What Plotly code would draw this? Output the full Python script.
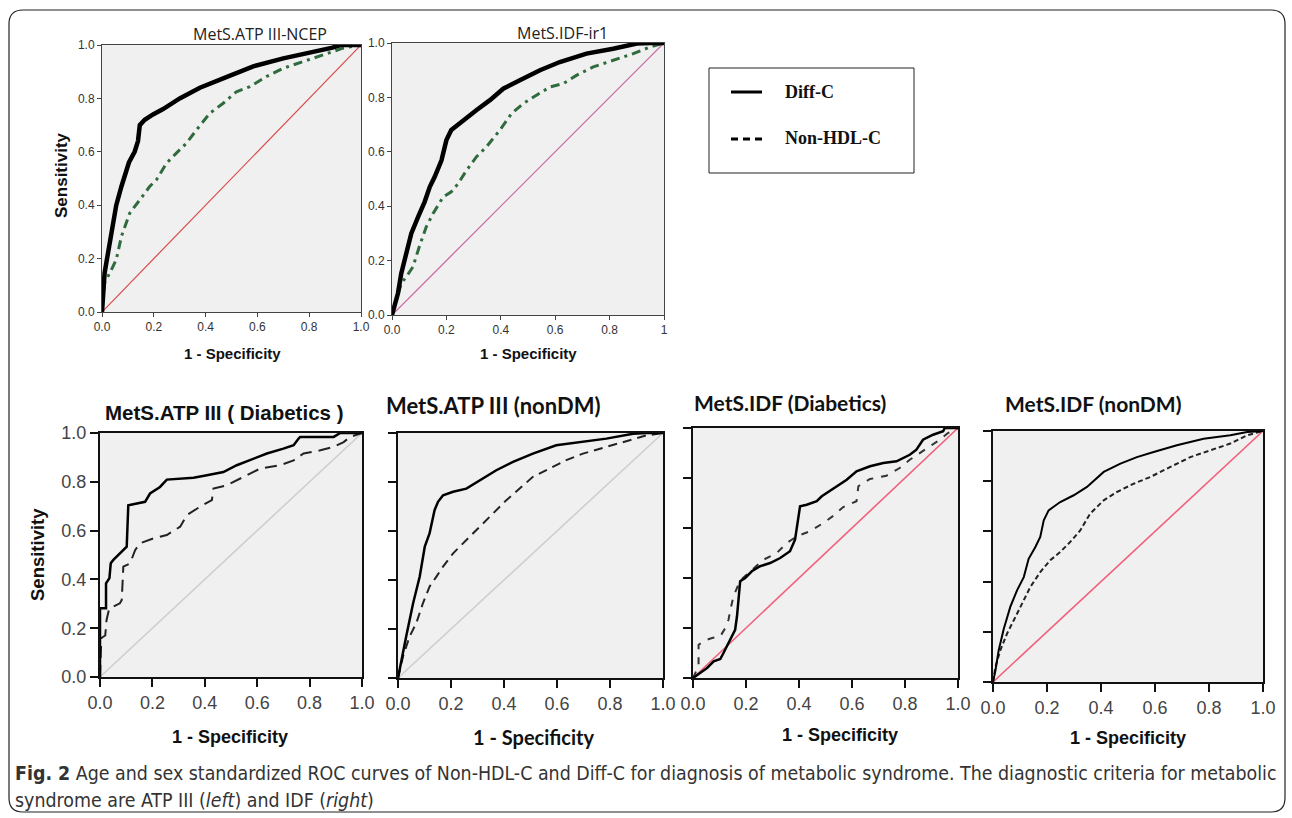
import plotly.graph_objects as go

W, H = 1292, 818

# ---------------- data ----------------
# Top-left: MetS.ATP III-NCEP
a_diff_x = [0, 0.005, 0.01, 0.023, 0.043, 0.055, 0.075, 0.095, 0.104, 0.126, 0.139, 0.146, 0.165, 0.197, 0.236, 0.30, 0.378, 0.48, 0.584, 0.70, 0.80, 0.89, 0.92, 1.0]
a_diff_y = [0, 0.10, 0.146, 0.22, 0.32, 0.40, 0.47, 0.54, 0.56, 0.60, 0.64, 0.70, 0.72, 0.74, 0.76, 0.80, 0.84, 0.88, 0.92, 0.95, 0.97, 0.99, 1.0, 1.0]
a_non_x = [0, 0.01, 0.03, 0.055, 0.075, 0.107, 0.146, 0.184, 0.21, 0.249, 0.287, 0.326, 0.365, 0.416, 0.468, 0.519, 0.571, 0.635, 0.70, 0.777, 0.854, 0.93, 1.0]
a_non_y = [0, 0.11, 0.146, 0.196, 0.283, 0.37, 0.42, 0.47, 0.495, 0.557, 0.595, 0.632, 0.682, 0.744, 0.782, 0.825, 0.844, 0.882, 0.913, 0.938, 0.963, 0.988, 1.0]

# Top-right: MetS.IDF-ir1
b_diff_x = [0, 0.01, 0.022, 0.034, 0.053, 0.071, 0.096, 0.12, 0.139, 0.157, 0.182, 0.2, 0.218, 0.261, 0.31, 0.36, 0.409, 0.47, 0.544, 0.617, 0.715, 0.813, 0.90, 0.95, 1.0]
b_diff_y = [0, 0.043, 0.08, 0.153, 0.226, 0.30, 0.361, 0.416, 0.471, 0.508, 0.569, 0.643, 0.68, 0.716, 0.753, 0.79, 0.832, 0.863, 0.90, 0.93, 0.961, 0.979, 0.998, 1.0, 1.0]
b_non_x = [0, 0.016, 0.034, 0.053, 0.077, 0.10, 0.126, 0.151, 0.188, 0.218, 0.243, 0.274, 0.31, 0.347, 0.396, 0.439, 0.482, 0.531, 0.58, 0.63, 0.678, 0.74, 0.813, 0.887, 0.948, 1.0]
b_non_y = [0, 0.055, 0.116, 0.141, 0.177, 0.25, 0.324, 0.373, 0.434, 0.453, 0.483, 0.532, 0.581, 0.618, 0.679, 0.74, 0.777, 0.808, 0.838, 0.851, 0.881, 0.912, 0.936, 0.961, 0.985, 1.0]

# Bottom 1: MetS.ATP III ( Diabetics )
c_diff_x = [0, 0, 0.023, 0.023, 0.036, 0.041, 0.051, 0.102, 0.108, 0.14, 0.172, 0.191, 0.229, 0.255, 0.306, 0.357, 0.408, 0.471, 0.522, 0.586, 0.637, 0.70, 0.739, 0.758, 0.764, 0.854, 0.892, 0.917, 1.0]
c_diff_y = [0, 0.282, 0.282, 0.384, 0.405, 0.466, 0.48, 0.534, 0.704, 0.711, 0.718, 0.752, 0.779, 0.809, 0.813, 0.817, 0.827, 0.84, 0.868, 0.895, 0.916, 0.936, 0.95, 0.977, 0.984, 0.984, 0.984, 1.0, 1.0]
c_non_x = [0, 0.005, 0.02, 0.025, 0.035, 0.076, 0.083, 0.089, 0.115, 0.134, 0.153, 0.204, 0.255, 0.306, 0.331, 0.382, 0.427, 0.433, 0.484, 0.535, 0.611, 0.688, 0.739, 0.777, 0.841, 0.892, 0.93, 0.955, 1.0]
c_non_y = [0, 0.16, 0.17, 0.234, 0.28, 0.302, 0.316, 0.452, 0.466, 0.52, 0.548, 0.568, 0.582, 0.616, 0.663, 0.698, 0.725, 0.772, 0.786, 0.813, 0.854, 0.868, 0.888, 0.916, 0.929, 0.943, 0.963, 0.984, 1.0]

# Bottom 2: MetS.ATP III (nonDM)
d_diff_x = [0, 0.013, 0.031, 0.057, 0.082, 0.101, 0.119, 0.138, 0.151, 0.17, 0.208, 0.258, 0.308, 0.371, 0.434, 0.509, 0.597, 0.686, 0.786, 0.887, 0.937, 1.0]
d_diff_y = [0, 0.075, 0.17, 0.305, 0.414, 0.536, 0.59, 0.685, 0.719, 0.746, 0.76, 0.773, 0.807, 0.848, 0.882, 0.916, 0.95, 0.963, 0.977, 0.997, 1.0, 1.0]
d_non_x = [0, 0.019, 0.044, 0.069, 0.094, 0.119, 0.145, 0.17, 0.208, 0.258, 0.308, 0.358, 0.409, 0.459, 0.509, 0.572, 0.635, 0.698, 0.761, 0.811, 0.887, 0.937, 1.0]
d_non_y = [0, 0.088, 0.17, 0.224, 0.305, 0.373, 0.414, 0.455, 0.509, 0.563, 0.617, 0.672, 0.726, 0.773, 0.821, 0.855, 0.889, 0.916, 0.936, 0.95, 0.977, 0.99, 1.0]

# Bottom 3: MetS.IDF (Diabetics)
e_diff_x = [0, 0.028, 0.053, 0.078, 0.103, 0.115, 0.128, 0.147, 0.159, 0.166, 0.172, 0.178, 0.197, 0.222, 0.253, 0.291, 0.329, 0.366, 0.385, 0.392, 0.404, 0.429, 0.467, 0.486, 0.542, 0.58, 0.617, 0.668, 0.718, 0.768, 0.818, 0.843, 0.868, 0.906, 0.944, 0.95, 1.0]
e_diff_y = [0, 0.02, 0.04, 0.067, 0.076, 0.10, 0.127, 0.167, 0.193, 0.247, 0.313, 0.387, 0.40, 0.427, 0.447, 0.46, 0.48, 0.507, 0.553, 0.607, 0.687, 0.693, 0.707, 0.727, 0.767, 0.793, 0.827, 0.847, 0.86, 0.867, 0.893, 0.913, 0.953, 0.973, 0.987, 1.0, 1.0]
e_non_x = [0, 0.021, 0.021, 0.053, 0.072, 0.103, 0.122, 0.134, 0.141, 0.153, 0.178, 0.222, 0.266, 0.316, 0.354, 0.392, 0.442, 0.492, 0.53, 0.567, 0.617, 0.624, 0.668, 0.73, 0.78, 0.818, 0.856, 0.893, 0.931, 0.962, 1.0]
e_non_y = [0, 0.047, 0.133, 0.153, 0.16, 0.167, 0.20, 0.233, 0.273, 0.327, 0.39, 0.43, 0.473, 0.50, 0.54, 0.567, 0.587, 0.62, 0.649, 0.684, 0.707, 0.767, 0.796, 0.809, 0.84, 0.873, 0.90, 0.927, 0.953, 0.98, 1.0]

# Bottom 4: MetS.IDF (nonDM)
f_diff_x = [0, 0.009, 0.021, 0.04, 0.064, 0.089, 0.114, 0.132, 0.157, 0.175, 0.188, 0.206, 0.249, 0.299, 0.348, 0.41, 0.472, 0.533, 0.595, 0.681, 0.78, 0.879, 0.941, 1.0]
f_diff_y = [0, 0.046, 0.126, 0.212, 0.299, 0.365, 0.418, 0.491, 0.538, 0.578, 0.644, 0.684, 0.717, 0.744, 0.777, 0.837, 0.87, 0.896, 0.916, 0.943, 0.969, 0.983, 0.996, 1.0]
f_non_x = [0, 0.009, 0.027, 0.052, 0.077, 0.107, 0.138, 0.175, 0.212, 0.249, 0.286, 0.323, 0.36, 0.41, 0.459, 0.521, 0.583, 0.657, 0.731, 0.805, 0.879, 0.941, 1.0]
f_non_y = [0, 0.06, 0.126, 0.193, 0.246, 0.312, 0.378, 0.438, 0.485, 0.518, 0.558, 0.604, 0.671, 0.724, 0.757, 0.79, 0.817, 0.857, 0.896, 0.923, 0.95, 0.983, 1.0]

ref_line = [0, 1]
tick_vals = [0, 0.2, 0.4, 0.6, 0.8, 1.0]
tick_text = ["0.0", "0.2", "0.4", "0.6", "0.8", "1.0"]
tick_text_b = ["0.0", "0.2", "0.4", "0.6", "0.8", "1"]

titles = ["MetS.ATP III-NCEP", "MetS.IDF-ir1", "MetS.ATP III ( Diabetics )",
          "MetS.ATP III (nonDM)", "MetS.IDF (Diabetics)", "MetS.IDF (nonDM)"]
legend_names = ["Diff-C", "Non-HDL-C"]
caption1 = "<b>Fig. 2</b> Age and sex standardized ROC curves of Non-HDL-C and Diff-C for diagnosis of metabolic syndrome. The diagnostic criteria for metabolic"
caption2 = "syndrome are ATP III (<i>left</i>) and IDF (<i>right</i>)"

# ---------------- layout helpers ----------------
ARIAL = "Liberation Sans, Arial, sans-serif"
SERIF = "Liberation Serif, Times New Roman, serif"
SEGOE = "Open Sans, Noto Sans, sans-serif"
CALI = "Lato, Open Sans, sans-serif"
NARROW = "Liberation Sans Narrow, DejaVu Sans Condensed, sans-serif"

def px_x(x):
    return x / W

def px_y(y):
    return 1 - y / H

# plot boxes in pixels (x0, y0, x1, y1)
boxes = [
    (102, 45, 361, 312),
    (392, 43, 664, 315),
    (100, 433, 362, 677),
    (398, 433, 663, 678),
    (693, 428, 958, 678),
    (993, 431, 1263, 682),
]

panels = [
    dict(diff=(a_diff_x, a_diff_y), non=(a_non_x, a_non_y), diag="#d94a4a",
         diff_w=4.5, non_w=3, non_col="#2f6b3c", non_dash="9px,5px,3px,5px", top=True),
    dict(diff=(b_diff_x, b_diff_y), non=(b_non_x, b_non_y), diag="#c8609a",
         diff_w=4.5, non_w=3, non_col="#2f6b3c", non_dash="9px,5px,3px,5px", top=True),
    dict(diff=(c_diff_x, c_diff_y), non=(c_non_x, c_non_y), diag="#cfcfcf",
         diff_w=2.5, non_w=2, non_col="#222222", non_dash="12px,7px", top=False),
    dict(diff=(d_diff_x, d_diff_y), non=(d_non_x, d_non_y), diag="#cfcfcf",
         diff_w=2.5, non_w=2, non_col="#222222", non_dash="9px,6px", top=False),
    dict(diff=(e_diff_x, e_diff_y), non=(e_non_x, e_non_y), diag="#f2607c",
         diff_w=2.5, non_w=2, non_col="#333333", non_dash="7px,8px", top=False),
    dict(diff=(f_diff_x, f_diff_y), non=(f_non_x, f_non_y), diag="#f2607c",
         diff_w=2, non_w=2, non_col="#222222", non_dash="5px,3px", top=False),
]

fig = go.Figure()
layout = dict(template="none", width=W, height=H,
              margin=dict(l=0, r=0, t=0, b=0, pad=0, autoexpand=False),
              paper_bgcolor="white", plot_bgcolor="#f0f0f0", showlegend=False)

for i, (box, p) in enumerate(zip(boxes, panels)):
    n = "" if i == 0 else str(i + 1)
    xa, ya = "x" + n, "y" + n
    x0, y0, x1, y1 = box
    top = p["top"]
    fig.add_trace(go.Scatter(x=ref_line, y=ref_line, mode="lines", xaxis=xa, yaxis=ya,
                             line=dict(color=p["diag"], width=1.2 if top else 1.6),
                             hoverinfo="skip"))
    fig.add_trace(go.Scatter(x=p["non"][0], y=p["non"][1], mode="lines", xaxis=xa, yaxis=ya,
                             name=legend_names[1],
                             line=dict(color=p["non_col"], width=p["non_w"], dash=p["non_dash"])))
    fig.add_trace(go.Scatter(x=p["diff"][0], y=p["diff"][1], mode="lines", xaxis=xa, yaxis=ya,
                             name=legend_names[0],
                             line=dict(color="black", width=p["diff_w"])))
    if top:
        tfont = dict(family=ARIAL, size=12, color="#333")
        lw, tl, tw, lc = 1, 4, 1, "#444"
    else:
        tfont = dict(family=ARIAL, size=18, color="#444")
        lw, tl, tw, lc = 2, 8, 2, "#111"
    layout["xaxis" + n] = dict(domain=[px_x(x0), px_x(x1)], range=[0, 1], anchor=ya,
                               automargin=False,
                               showgrid=False, zeroline=False, showline=True, mirror=True,
                               linecolor=lc, linewidth=lw, ticks="outside", ticklen=tl,
                               tickwidth=tw, tickcolor=lc, tickvals=tick_vals,
                               ticktext=tick_text_b if i == 1 else tick_text, tickfont=tfont)
    layout["yaxis" + n] = dict(domain=[px_y(y1), px_y(y0)], range=[0, 1], anchor=xa,
                               automargin=False,
                               showgrid=False, zeroline=False, showline=True, mirror=True,
                               linecolor=lc, linewidth=lw, ticks="outside", ticklen=tl,
                               tickwidth=tw, tickcolor=lc, tickvals=tick_vals,
                               ticktext=tick_text, tickfont=tfont,
                               showticklabels=(i in (0, 1, 2)))

annotations = []

def ann(text, x, y, size, family, bold=False, angle=0, color="#111", xanchor="center"):
    annotations.append(dict(text=("<b>%s</b>" % text) if bold else text,
                            x=px_x(x), y=px_y(y), xref="paper", yref="paper",
                            xanchor=xanchor, yanchor="middle", showarrow=False,
                            textangle=angle, font=dict(size=size, family=family, color=color)))

# titles
ann(titles[0], 260, 34, 16, SEGOE, color="#222")
ann(titles[1], 562, 33, 16, SEGOE, color="#222")
ann(titles[2], 224, 412, 20.5, ARIAL, bold=True)
ann(titles[3], 493, 405, 22, CALI, bold=True)
ann(titles[4], 790, 402, 21, CALI, bold=True)
ann(titles[5], 1093, 403, 21, CALI, bold=True)

# axis titles
ann("Sensitivity", 62, 175, 17, ARIAL, bold=True, angle=-90)
ann("1 - Specificity", 232, 353, 15, ARIAL, bold=True)
ann("1 - Specificity", 528, 353, 15, ARIAL, bold=True)
ann("Sensitivity", 37, 555, 18.5, ARIAL, bold=True, angle=-90)
ann("1 - Specificity", 230, 737, 18, ARIAL, bold=True)
ann("1 - Specificity", 533, 737, 20, CALI, bold=True)
ann("1 - Specificity", 840, 735, 18, ARIAL, bold=True)
ann("1 - Specificity", 1128, 738, 18, ARIAL, bold=True)

# legend
ann(legend_names[0], 783, 92, 18, SERIF, bold=True, xanchor="left")
ann(legend_names[1], 783, 138, 18, SERIF, bold=True, xanchor="left")

# caption
ann(caption1, 13, 773, 19.4, NARROW, color="#333", xanchor="left")
ann(caption2, 13, 800, 19.4, NARROW, color="#333", xanchor="left")

layout["annotations"] = annotations

# frame (rounded) and legend box
fx0, fy0, fx1, fy1, r = 9, 10, 1285, 812, 14
rx, ry = r / W, r / H
X0, X1, Y0, Y1 = px_x(fx0), px_x(fx1), px_y(fy1), px_y(fy0)
frame_path = (f"M {X0+rx},{Y1} L {X1-rx},{Y1} Q {X1},{Y1} {X1},{Y1-ry} L {X1},{Y0+ry} "
              f"Q {X1},{Y0} {X1-rx},{Y0} L {X0+rx},{Y0} Q {X0},{Y0} {X0},{Y0+ry} "
              f"L {X0},{Y1-ry} Q {X0},{Y1} {X0+rx},{Y1} Z")
shapes = [
    dict(type="path", path=frame_path, xref="paper", yref="paper",
         line=dict(color="#222", width=1.2)),
    dict(type="rect", xref="paper", yref="paper", x0=px_x(709), x1=px_x(914),
         y0=px_y(173), y1=px_y(68), line=dict(color="#222", width=1)),
    dict(type="line", xref="paper", yref="paper", x0=px_x(731), x1=px_x(762),
         y0=px_y(92), y1=px_y(92), line=dict(color="black", width=3)),
    dict(type="line", xref="paper", yref="paper", x0=px_x(731), x1=px_x(764),
         y0=px_y(139), y1=px_y(139), line=dict(color="black", width=3, dash="7px,5px")),
]
layout["shapes"] = shapes

fig.update_layout(**layout)
fig.write_html("out.html", config={"displayModeBar": False},
               post_script="document.body.style.margin='0px';document.body.style.overflow='hidden';")
